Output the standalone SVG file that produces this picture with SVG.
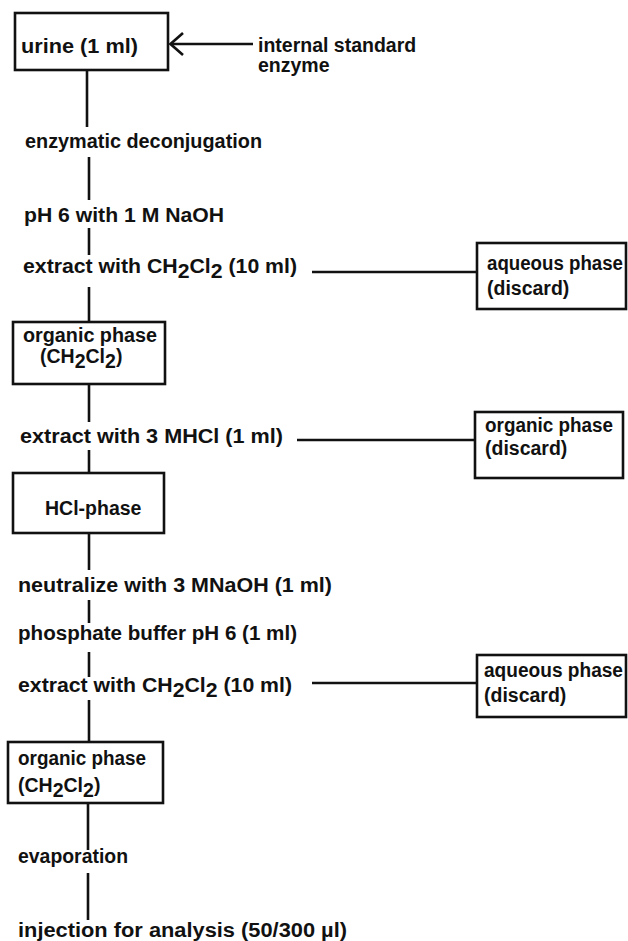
<svg xmlns="http://www.w3.org/2000/svg" width="628" height="941" viewBox="0 0 628 941">
<style>
text{font-family:"Liberation Sans",Arial,sans-serif;font-weight:bold;font-size:19.5px;fill:#111}
.box{fill:#fff;stroke:#111;stroke-width:2.6}
.ln{stroke:#111;stroke-width:2.6;fill:none}
</style>
<defs>
<marker id="chev" markerUnits="userSpaceOnUse" markerWidth="16" markerHeight="26" refX="14" refY="12" orient="auto" viewBox="0 0 16 26">
<path d="M2,1 L14.5,12 L2,23" fill="none" stroke="#111" stroke-width="2.6"/>
</marker>
</defs>
<rect width="628" height="941" fill="#fff"/>
<g id="urine">
<rect class="box" x="15" y="13" width="153" height="57"/>
<text x="21" y="53" textLength="117" lengthAdjust="spacingAndGlyphs">urine (1 ml)</text>
</g>
<g id="additions">
<text x="258" y="52">internal standard</text>
<text x="258" y="72">enzyme</text>
</g>
<g id="step-deconjugation"><text x="25" y="148" textLength="237" lengthAdjust="spacingAndGlyphs">enzymatic deconjugation</text></g>
<g id="step-ph"><text x="24" y="222" textLength="200" lengthAdjust="spacingAndGlyphs">pH 6 with 1 M NaOH</text></g>
<g id="step-extract1"><text x="23" y="273" textLength="274" lengthAdjust="spacingAndGlyphs">extract with CH<tspan dy="5">2</tspan><tspan dy="-5">Cl</tspan><tspan dy="5">2</tspan><tspan dy="-5"> (10 ml)</tspan></text></g>
<g id="aqueous1">
<rect class="box" x="477" y="243" width="149" height="66"/>
<text x="487" y="270" textLength="136" lengthAdjust="spacingAndGlyphs">aqueous phase</text>
<text x="487" y="295">(discard)</text>
</g>
<g id="organic1">
<rect class="box" x="13" y="322" width="152" height="62"/>
<text x="23" y="342" textLength="134" lengthAdjust="spacingAndGlyphs">organic phase</text>
<text x="40" y="363">(CH<tspan dy="5">2</tspan><tspan dy="-5">Cl</tspan><tspan dy="5">2</tspan><tspan dy="-5">)</tspan></text>
</g>
<g id="step-extract2"><text x="20" y="443" textLength="263" lengthAdjust="spacingAndGlyphs">extract with 3 MHCl (1 ml)</text></g>
<g id="organic-discard">
<rect class="box" x="475" y="412" width="148" height="66"/>
<text x="485" y="432" textLength="128" lengthAdjust="spacingAndGlyphs">organic phase</text>
<text x="485" y="455">(discard)</text>
</g>
<g id="hcl">
<rect class="box" x="13" y="473" width="151" height="60"/>
<text x="45" y="515">HCl-phase</text>
</g>
<g id="step-neutralize"><text x="18" y="592" textLength="314" lengthAdjust="spacingAndGlyphs">neutralize with 3 MNaOH (1 ml)</text></g>
<g id="step-buffer"><text x="18" y="640" textLength="279" lengthAdjust="spacingAndGlyphs">phosphate buffer pH 6 (1 ml)</text></g>
<g id="step-extract3"><text x="18" y="692" textLength="274" lengthAdjust="spacingAndGlyphs">extract with CH<tspan dy="5">2</tspan><tspan dy="-5">Cl</tspan><tspan dy="5">2</tspan><tspan dy="-5"> (10 ml)</tspan></text></g>
<g id="aqueous2">
<rect class="box" x="477" y="655" width="149" height="62"/>
<text x="484" y="677" textLength="139" lengthAdjust="spacingAndGlyphs">aqueous phase</text>
<text x="484" y="702">(discard)</text>
</g>
<g id="organic2">
<rect class="box" x="8" y="742" width="155" height="61"/>
<text x="18" y="765" textLength="128" lengthAdjust="spacingAndGlyphs">organic phase</text>
<text x="18" y="792">(CH<tspan dy="5">2</tspan><tspan dy="-5">Cl</tspan><tspan dy="5">2</tspan><tspan dy="-5">)</tspan></text>
</g>
<g id="step-evaporation"><text x="18" y="863" textLength="110" lengthAdjust="spacingAndGlyphs">evaporation</text></g>
<g id="step-injection"><text x="18" y="937" textLength="329" lengthAdjust="spacingAndGlyphs">injection for analysis (50/300 µl)</text></g>
<g id="connectors">
<line class="ln" x1="87" y1="70" x2="87" y2="127"/>
<line class="ln" x1="89" y1="157" x2="89" y2="200"/>
<line class="ln" x1="89" y1="228" x2="89" y2="255"/>
<line class="ln" x1="89" y1="287" x2="89" y2="322"/>
<line class="ln" x1="89" y1="384" x2="89" y2="422"/>
<line class="ln" x1="89" y1="450" x2="89" y2="473"/>
<line class="ln" x1="89" y1="533" x2="89" y2="570"/>
<line class="ln" x1="89" y1="600" x2="89" y2="623"/>
<line class="ln" x1="89" y1="652" x2="89" y2="677"/>
<line class="ln" x1="89" y1="700" x2="89" y2="742"/>
<line class="ln" x1="88" y1="803" x2="88" y2="850"/>
<line class="ln" x1="88" y1="873" x2="88" y2="920"/>
<line class="ln" x1="312" y1="272" x2="477" y2="272"/>
<line class="ln" x1="297" y1="440" x2="475" y2="440"/>
<line class="ln" x1="312" y1="683" x2="477" y2="683"/>
<line class="ln" x1="253" y1="44" x2="171" y2="44" marker-end="url(#chev)"/>
</g>
</svg>
